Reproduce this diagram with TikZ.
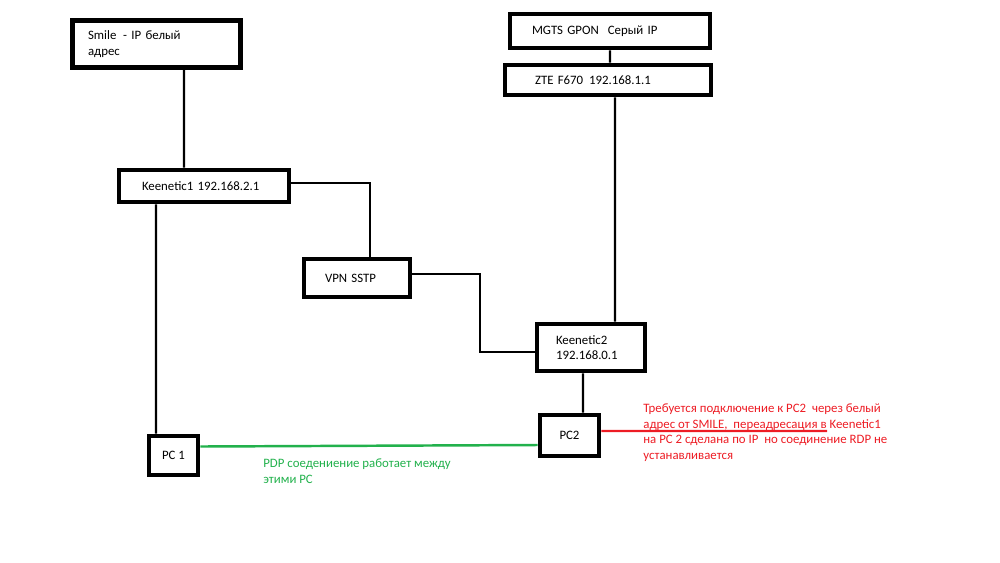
\documentclass[tikz,border=0pt]{standalone}
\usepackage{fontspec}
\setmainfont{Carlito}
\usetikzlibrary{positioning}
\definecolor{paintgreen}{HTML}{22B14C}
\definecolor{paintred}{HTML}{ED1C24}

\begin{document}
\begin{tikzpicture}[x=0.02cm, y=-0.02cm,
    box/.style={draw, line width=2.8pt, align=left, font=\fontsize{7.3}{8.9}\selectfont},
    wire/.style={line width=1.4pt},
    note/.style={inner sep=0pt, anchor=west, align=left, font=\fontsize{7.3}{8.9}\selectfont}]
  \useasboundingbox (0,0) rectangle (1000,562);
  % boxes
  \node[box, minimum width=3.36cm, minimum height=0.94cm, text width=2.74cm] (smile) at (156.5,44) {Smile\hspace{0.05cm} - IP белый\\адрес};
  \node[box, minimum width=4cm, minimum height=0.68cm, text width=3.12cm] (mgts) at (610,31) {MGTS GPON\hspace{0.18cm}Серый IP};
  \node[box, minimum width=4.12cm, minimum height=0.6cm, text width=2.92cm] (zte) at (608,80) {ZTE F670\hspace{0.12cm}192.168.1.1};
  \node[box, minimum width=3.4cm, minimum height=0.64cm, text width=2.48cm] (keen1) at (204,186) {Keenetic1 192.168.2.1};
  \node[box, minimum width=2.12cm, minimum height=0.76cm, text width=1.28cm] (vpn) at (357,278) {VPN SSTP};
  \node[box, minimum width=2.16cm, minimum height=0.94cm, text width=1.4cm] (keen2) at (591,347.5) {Keenetic2\\192.168.0.1};
  \node[box, minimum width=0.98cm, minimum height=0.78cm, align=center] (pc1) at (173.5,455.5) {PC 1};
  \node[box, minimum width=1.18cm, minimum height=0.82cm, align=center] (pc2) at (569.5,435.5) {PC2};
  % bends and loose ends
  \coordinate (sstpbend) at (480,352);
  \coordinate (redend) at (827,431);
  % wires
  \draw[wire] ([xshift=0.55cm]smile.south) -- ([xshift=-0.4cm]keen1.north);
  \draw[wire] (mgts.south) -- ([xshift=0.04cm]zte.north);
  \draw[wire] ([xshift=0.14cm]zte.south) -- ([xshift=0.48cm]keen2.north);
  \draw[wire] ([yshift=0.06cm]keen1.east) -| ([xshift=0.26cm]vpn.north);
  \draw[wire] ([yshift=0.08cm]vpn.east) -| (sstpbend) -- (sstpbend -| keen2.west);
  \draw[wire] ([xshift=-0.96cm]keen1.south) -- ([xshift=-0.35cm]pc1.north);
  \draw[wire] ([xshift=-0.16cm]keen2.south) -- ([xshift=0.27cm]pc2.north);
  \draw[wire, paintgreen] ([yshift=0.18cm]pc1.east) -- ([yshift=-0.19cm]pc2.west);
  \draw[wire, paintred, line width=1.2pt] ([yshift=0.09cm]pc2.east) -- (redend);
  % notes
  \node[note, text=paintgreen] (pdpnote) at (263,471) {PDP соедениение работает между\\этими PC};
  \node[note, text=paintred] (rdpnote) at (643,432.5) {Требуется подключение к PC2\hspace{0.06cm} через белый\\адрес от SMILE,\hspace{0.06cm} переадресация в Keenetic1\\на PC 2 сделана по IP\hspace{0.06cm} но соединение RDP не\\устанавливается};
\end{tikzpicture}
\end{document}
